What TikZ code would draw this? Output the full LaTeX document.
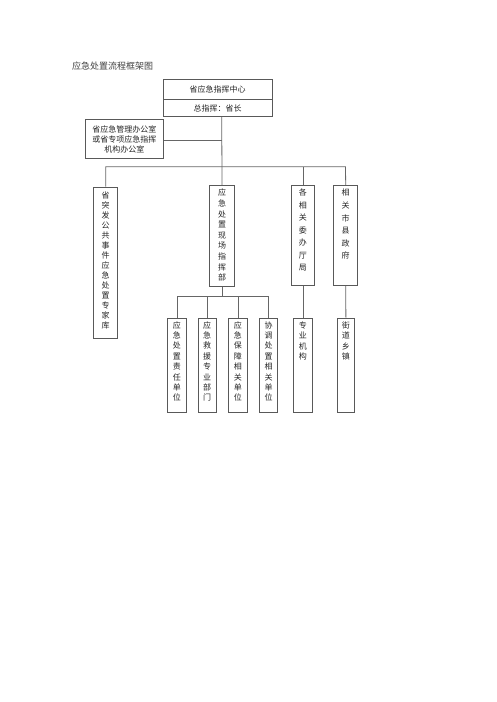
\documentclass[tikz,border=0pt]{standalone}
\usepackage{fontspec}
\newfontfamily\cjk{Noto Sans CJK SC}
\begin{document}
\begin{tikzpicture}[x=1pt,y=-1pt,
  every node/.style={inner sep=0pt},
  boxst/.style={draw=black!65, line width=0.8pt, fill=white, anchor=north west},
  vtext/.style={anchor=north, align=center, font=\cjk\fontsize{8}{#1}\selectfont, text=black!85},
  htext/.style={font=\cjk\fontsize{8}{10}\selectfont, text=black!85},
  link/.style={draw=black!60, line width=0.8pt}]
\useasboundingbox (0,0) rectangle (496,702);
% title
\node[anchor=west, font=\cjk\fontsize{9}{11}\selectfont, text=black!75] (title) at (72,66) {应急处置流程框架图};
% top box
\node[boxst, minimum width=109pt, minimum height=20pt] (top1) at (162.7,79.3) {};
\node[boxst, minimum width=109pt, minimum height=16.7pt] (top2) at (162.7,99.3) {};
\node[htext] (top1t) at (top1.center) {省应急指挥中心};
\node[htext] (top2t) at (top2.center) {总指挥：省长};
% office box
\node[boxst, minimum width=78pt, minimum height=39pt] (off) at (85,119.3) {};
\node[align=center, font=\cjk\fontsize{8}{9.8}\selectfont, text=black!85] (offt) at (off.center) {省应急管理办公室\\或省专项应急指挥\\机构办公室};
% coordinates
\coordinate (hub) at (221.7,166.7);
\coordinate (offj) at (221.7,140);
\coordinate (hl) at (105,166.7);
\coordinate (hr) at (345.5,166.7);
\coordinate (h2) at (302.5,166.7);
% second level boxes
\node[boxst, minimum width=24pt, minimum height=151.6pt] (exp) at (93.3,186.7) {};
\node[vtext=10] (expt) at ([yshift=-4.5pt]exp.north) {省\\突\\发\\公\\共\\事\\件\\应\\急\\处\\置\\专\\家\\库};
\node[boxst, minimum width=24.7pt, minimum height=101pt] (site) at (209.3,185) {};
\node[vtext=10.6] (sitet) at ([yshift=-4pt]site.north) {应\\急\\处\\置\\现\\场\\指\\挥\\部};
\node[boxst, minimum width=23.6pt, minimum height=100pt] (dept) at (290.7,185) {};
\node[vtext=12.5] (deptt) at ([yshift=-4pt]dept.north) {各\\相\\关\\委\\办\\厅\\局};
\node[boxst, minimum width=24pt, minimum height=100pt] (gov) at (333.3,185) {};
\node[vtext=12.6] (govt) at ([yshift=-4pt]gov.north) {相\\关\\市\\县\\政\\府};
% third level
\coordinate (sh) at (221.7,296.7);
\node[boxst, minimum width=18.4pt, minimum height=94.6pt] (s1) at (167.3,317.7) {};
\node[boxst, minimum width=18.4pt, minimum height=94.6pt] (s2) at (197.5,317.7) {};
\node[boxst, minimum width=18.4pt, minimum height=94.6pt] (s3) at (228.3,317.7) {};
\node[boxst, minimum width=18.4pt, minimum height=94.6pt] (s4) at (259,317.7) {};
\node[boxst, minimum width=18.4pt, minimum height=94.6pt] (s5) at (293.3,317.7) {};
\node[boxst, minimum width=17.6pt, minimum height=94.6pt] (s6) at (336.7,317.7) {};
\node[vtext=10.4] (s1t) at ([yshift=-3.5pt]s1.north) {应\\急\\处\\置\\责\\任\\单\\位};
\node[vtext=10.4] (s2t) at ([yshift=-3.5pt]s2.north) {应\\急\\救\\援\\专\\业\\部\\门};
\node[vtext=10.4] (s3t) at ([yshift=-3.5pt]s3.north) {应\\急\\保\\障\\相\\关\\单\\位};
\node[vtext=10.4] (s4t) at ([yshift=-3.5pt]s4.north) {协\\调\\处\\置\\相\\关\\单\\位};
\node[vtext=10.6] (s5t) at ([yshift=-3.5pt]s5.north) {专\\业\\机\\构};
\node[vtext=10.6] (s6t) at ([yshift=-3.5pt]s6.north) {街\\道\\乡\\镇};
% connectors
\draw[link] (top2.south -| hub) -- (site.north);
\draw[link] (off.east |- offj) -- (offj);
\draw[link] (exp.north) -- (exp.north |- hl) -- (hr) -- (gov.north);
\draw[link] (dept.north) -- (dept.north |- hl);
\draw[link] (site.south) -- (site.south |- sh);
\draw[link] (s1.north) -- (s1.north |- sh) -- (s4.north |- sh) -- (s4.north);
\draw[link] (s2.north) -- (s2.north |- sh);
\draw[link] (s3.north) -- (s3.north |- sh);
\draw[link] (dept.south) -- (s5.north);
\draw[link] (gov.south) -- (s6.north);
\end{tikzpicture}
\end{document}
